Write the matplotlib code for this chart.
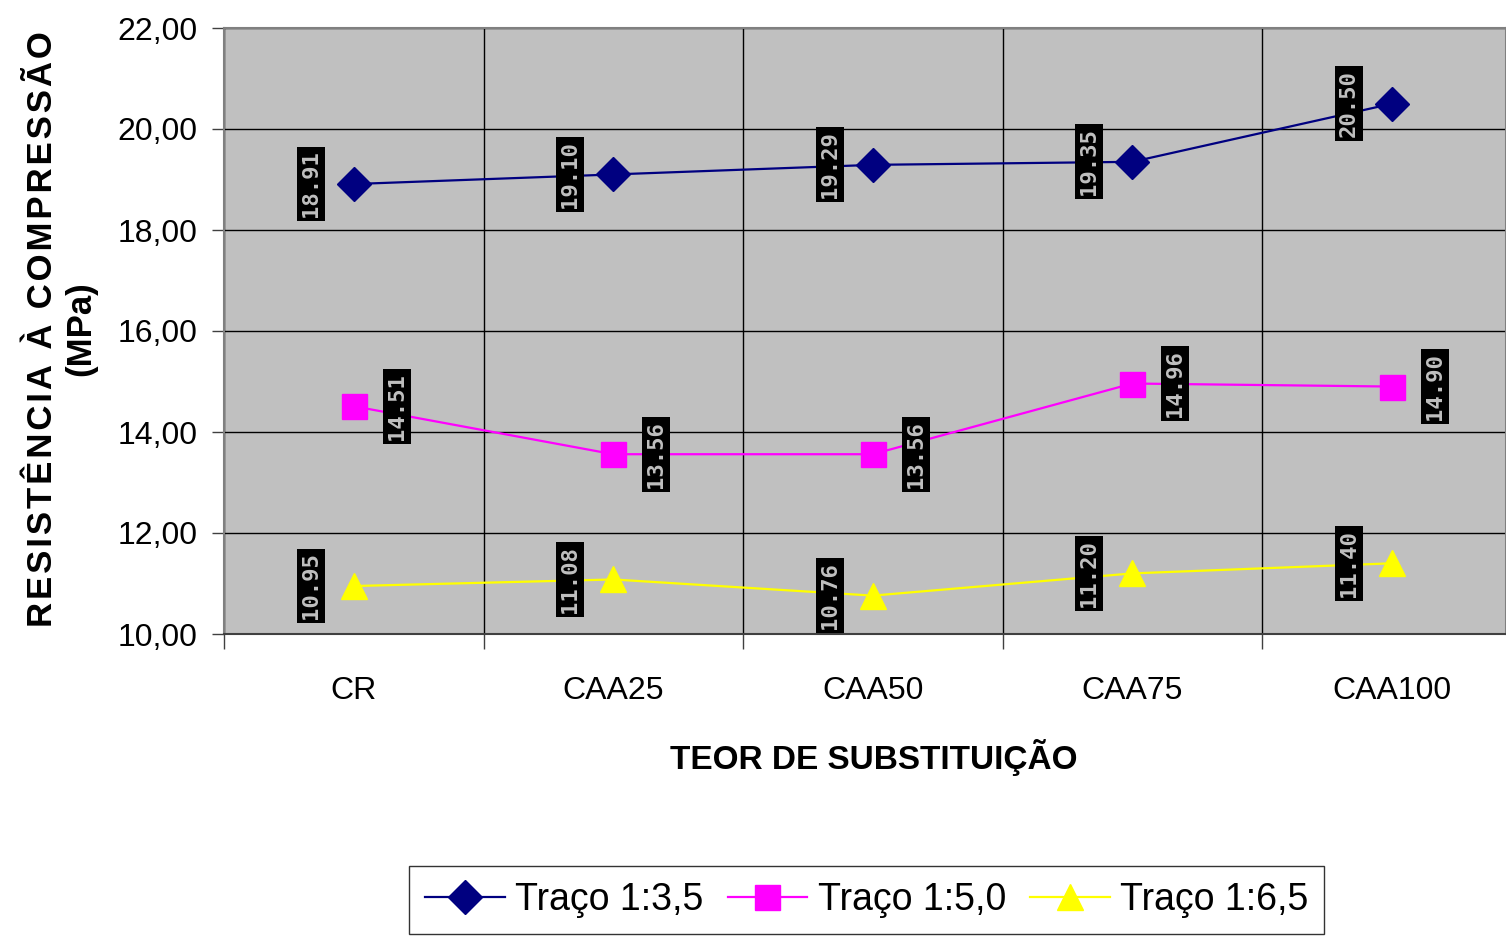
import numpy as np
import matplotlib
matplotlib.use('Agg')
import matplotlib.pyplot as plt
from matplotlib.ticker import FuncFormatter

# Dados
categorias = ['CR', 'CAA25', 'CAA50', 'CAA75', 'CAA100']
traco_35 = [18.91, 19.10, 19.29, 19.35, 20.50]
traco_50 = [14.51, 13.56, 13.56, 14.96, 14.90]
traco_65 = [10.95, 11.08, 10.76, 11.20, 11.40]

plt.rcParams['font.family'] = ['Liberation Sans', 'DejaVu Sans']

fig = plt.figure(figsize=(15.06, 9.36), dpi=100)
ax = fig.add_axes([224/1506, 1 - 634/936, 1 - 224/1506, (634 - 28)/936])
ax.set_facecolor('#c0c0c0')

x = np.arange(len(categorias))
series = [
    (traco_35, '#000080', 'D', 17, 'Traço 1:3,5', -31),
    (traco_50, '#ff00ff', 's', 18, 'Traço 1:5,0', 31),
    (traco_65, '#ffff00', '^', 19, 'Traço 1:6,5', -31),
]
for vals, cor, mk, ms, nome, dx in series:
    ax.plot(x, vals, color=cor, marker=mk, markersize=ms, lw=1.6,
            markeredgecolor=cor, label=nome, zorder=3)
    for xi, v in zip(x, vals):
        ax.annotate(f'{v:.2f}', (xi, v), xytext=(dx, 0), textcoords='offset points',
                    rotation=90, ha='center', va='center', color='#c0c0c0',
                    fontsize=16, fontweight='bold', family='DejaVu Sans Mono',
                    bbox=dict(boxstyle='square,pad=0.18', fc='black', ec='none'),
                    zorder=4)

ax.set_ylim(10, 22)
ax.set_yticks(np.arange(10, 23, 2))
ax.yaxis.set_major_formatter(FuncFormatter(lambda v, p: f'{v:.2f}'.replace('.', ',')))
ax.set_xlim(-0.5, 4.44)
ax.set_xticks(np.arange(-0.5, 4.5, 1.0))
ax.set_xticklabels([])
ax.set_xticks(x, minor=True)
ax.set_xticklabels(categorias, minor=True)
ax.tick_params(axis='x', which='major', length=11, width=1, color='#404040')
ax.tick_params(axis='x', which='minor', length=0, pad=30, labelsize=23)
ax.tick_params(axis='y', length=9, width=1, color='#404040', labelsize=23, pad=10)
ax.grid(True, which='major', color='black', lw=1)
ax.set_axisbelow(True)
for s in ax.spines.values():
    s.set_color('#808080')
    s.set_linewidth(1.5)
ax.spines['bottom'].set_color('#404040')

fig.text(874/1506, 1 - 757/936, 'TEOR DE SUBSTITUIÇÃO', ha='center', va='center',
         fontsize=24, fontweight='bold')
hs = '\u200a'
linha1 = hs.join('RESISTÊNCIA À COMPRESSÃO')
fig.text(62/1506, 1 - 329/936, linha1 + '\n(MPa)', rotation=90,
         ha='center', va='center', multialignment='center', fontsize=25,
         fontweight='bold', linespacing=1.2)

leg = fig.legend(loc='upper left', bbox_to_anchor=(409/1506, 1 - 866/936), ncol=3,
                 frameon=True, fancybox=False, edgecolor='black',
                 prop={'size': 27}, handlelength=2.13,
                 handletextpad=0.27, columnspacing=0.64, borderpad=0.43, borderaxespad=0)
leg.get_frame().set_linewidth(1)

fig.savefig('out.png', dpi=100)
